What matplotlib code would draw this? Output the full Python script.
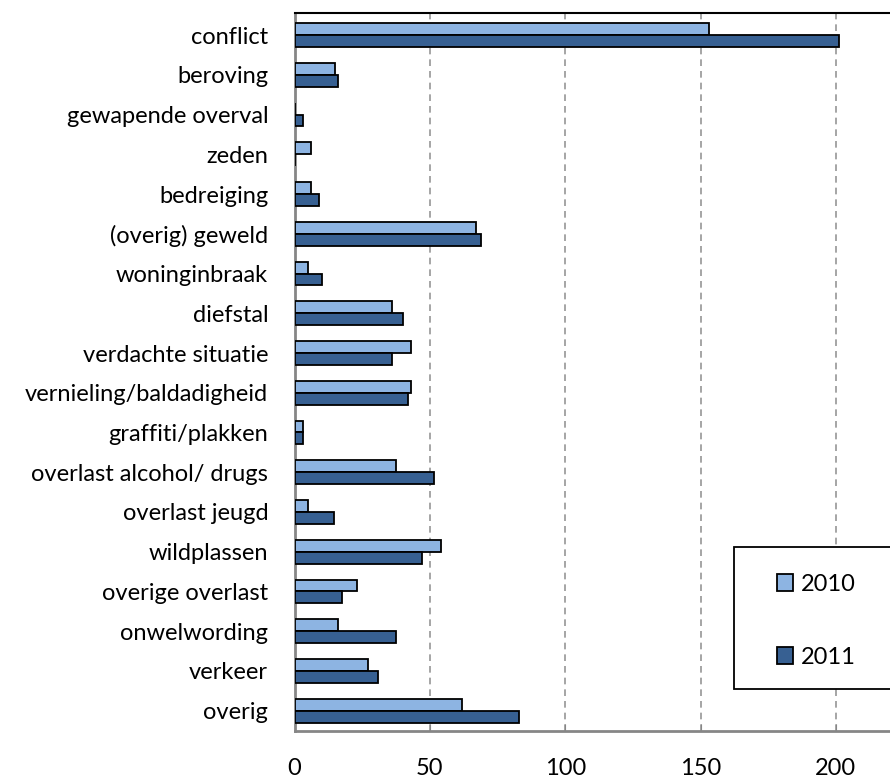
import numpy as np
import matplotlib
matplotlib.use("Agg")
import matplotlib.pyplot as plt
from matplotlib.patches import Rectangle

categories = ["conflict", "beroving", "gewapende overval", "zeden", "bedreiging",
              "(overig) geweld", "woninginbraak", "diefstal", "verdachte situatie",
              "vernieling/baldadigheid", "graffiti/plakken", "overlast alcohol/ drugs",
              "overlast jeugd", "wildplassen", "overige overlast", "onwelwording",
              "verkeer", "overig"]
vals_2010 = [153, 15, 0, 6, 6, 67, 5, 36, 43, 43, 3, 37.5, 5, 54, 23, 16, 27, 62]
vals_2011 = [201, 16, 3, 0, 9, 69, 10, 40, 36, 42, 3, 51.5, 14.5, 47, 17.5, 37.5, 31, 83]
years = ["2010", "2011"]

plt.rcParams['font.family'] = ['Lato', 'DejaVu Sans']
fs = 17

fig = plt.figure(figsize=(8.9, 7.78), dpi=100)
ax = fig.add_axes([0.331, 0.061, 0.669, 0.922])

y = np.arange(len(categories))
h = 0.3
ax.barh(y - h / 2, vals_2010, height=h, color='#8DB4E2', edgecolor='black',
        linewidth=1.3, label=years[0], zorder=3)
ax.barh(y + h / 2, vals_2011, height=h, color='#376092', edgecolor='black',
        linewidth=1.3, label=years[1], zorder=3)

ax.set_ylim(len(categories) - 0.5, -0.55)
ax.set_xlim(0, 220)
ax.set_yticks(y)
ax.set_yticklabels(categories, fontsize=fs)
ax.set_xticks([0, 50, 100, 150, 200])
ax.tick_params(axis='x', labelsize=fs, direction='in', length=5, color='#868686', pad=19.5)
ax.tick_params(axis='y', length=0, pad=19)

ax.xaxis.grid(True, linestyle=(0, (4, 3)), color='#969696', linewidth=1.2, zorder=0)
for s in ['left', 'bottom']:
    ax.spines[s].set_color('#868686')
    ax.spines[s].set_linewidth(2)
ax.spines['top'].set_color('black')
ax.spines['top'].set_linewidth(1.5)
ax.spines['right'].set_visible(False)

# legend box (extends past the right edge like the original)
ax.add_patch(Rectangle((0.738, 0.058), 0.4, 0.198, transform=ax.transAxes,
                       facecolor='white', edgecolor='black', linewidth=1.3,
                       clip_on=False, zorder=5))
leg = ax.legend(loc='center left', bbox_to_anchor=(0.81, 0.153), fontsize=fs,
                frameon=False, handlelength=0.7, handleheight=0.7, handletextpad=0.3,
                labelspacing=2.2, borderpad=0, borderaxespad=0)
leg.set_zorder(6)

fig.savefig("out.png", dpi=100)
